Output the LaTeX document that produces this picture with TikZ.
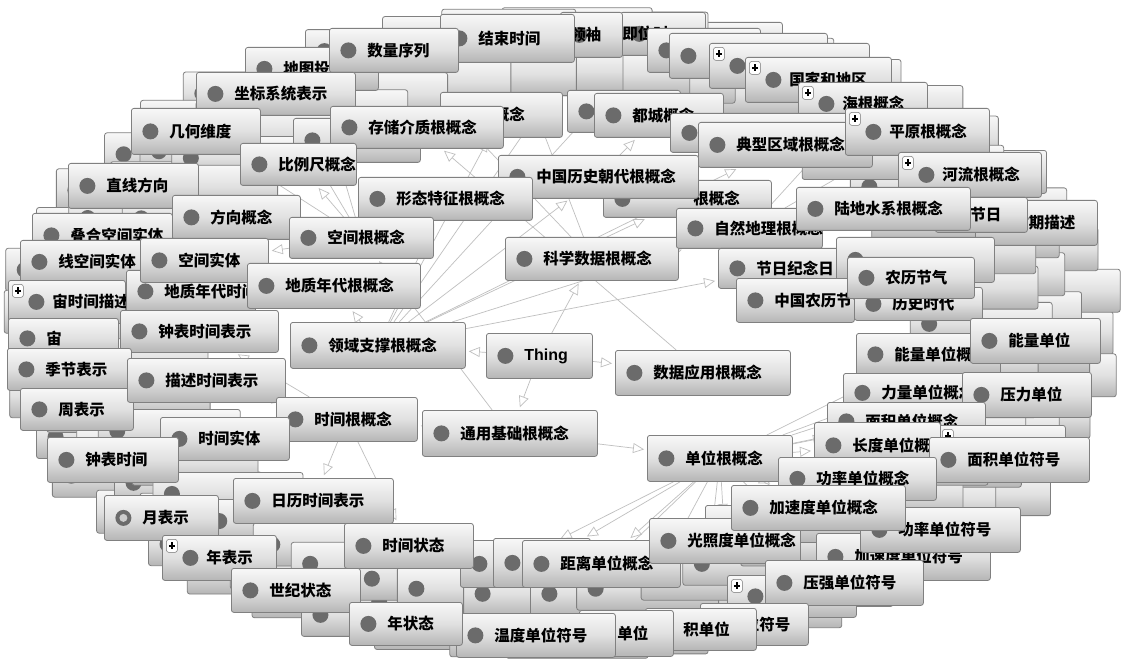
\documentclass[tikz,border=0pt]{standalone}
\usepackage{fontspec}
\newfontfamily\cjk{Noto Sans CJK SC}
\newfontfamily\lsans{Liberation Sans}
\usetikzlibrary{arrows.meta}
\pgfdeclarelayer{background}
\pgfdeclarelayer{paper}
\pgfsetlayers{paper,background,main}
\tikzset{
 box/.style={draw=black!50, line width=0.8pt, rounded corners=2.5pt,
   top color=gray!6, bottom color=gray!58, middle color=gray!24,
   inner sep=0pt, font=\cjk\bfseries\fontsize{15.5}{18}\selectfont, text=black,
   path picture={\fill[black!58] ([xshift=19pt]path picture bounding box.west) circle (8pt);}},
 pbox/.style={box, path picture={
   \fill[black!58] ([xshift=28pt]path picture bounding box.west) circle (8pt);
   \draw[black!55, fill=white, line width=0.5pt] ([xshift=4pt,yshift=-4pt]path picture bounding box.north west) rectangle ++(11pt,-13pt);
   \draw[black, line width=1.3pt] ([xshift=9.5pt,yshift=-7pt]path picture bounding box.north west) -- ++(0,-7pt)
     ([xshift=6.5pt,yshift=-10.5pt]path picture bounding box.north west) -- ++(6pt,0);}},
 hbox/.style={box, path picture={
   \fill[black!58] ([xshift=19pt]path picture bounding box.west) circle (8pt);
   \fill[gray!40] ([xshift=19pt]path picture bounding box.west) circle (4pt);}},
 edge/.style={draw=gray!50, line width=0.7pt, -{Triangle[open, length=11pt, width=10pt]}, shorten >=3pt},
}
\newcommand\bxx[8]{%
 \pgfmathsetmacro\bw{#6-#4}\pgfmathsetmacro\bh{#7-#5}%
 \node[#1, minimum width=\bw pt, minimum height=\bh pt, anchor=north west] (#3) at (#4,#5) {\makebox[\bw pt][l]{\hspace{#2pt}#8}};}
\newcommand\bx[6]{\bxx{box}{38}{#1}{#2}{#3}{#4}{#5}{#6}}
\newcommand\bp[6]{\bxx{pbox}{44}{#1}{#2}{#3}{#4}{#5}{#6}}
\newcommand\bo[7]{\bxx{box}{#7}{#1}{#2}{#3}{#4}{#5}{#6}}
\begin{document}
\begin{tikzpicture}[x=1pt,y=-1pt]
\begin{pgfonlayer}{paper}
\fill[white] (0,0) rectangle (1137,660);
\end{pgfonlayer}
\useasboundingbox (0,0) rectangle (1137,660);
% ring of stacked plates
\foreach \f/\o [count=\r] in {1.0/0, 0.93/4, 0.86/2}{
 \foreach \k in {0,...,44}{
  \pgfmathsetmacro\ang{\k*8+\o}
  \pgfmathsetmacro\cx{560+490*\f*cos(\ang)}
  \pgfmathsetmacro\cy{333-304*\f*sin(\ang)}
  \pgfmathsetmacro\pw{118+8*mod(\k*3+\r,5)}
  \node[box, minimum width=\pw pt, minimum height=43pt] (pl\r-\k) at (\cx,\cy) {};
 }}
% top
\bo{jiwei}{620}{12}{705}{55}{即位时}{2}
\bo{lingxiu}{560}{12}{622}{57}{领袖}{10}
\bx{jieshu}{440}{14}{574}{62}{结束时间}
\bx{p647}{647}{28}{760}{72}{}
\bx{p669}{669}{33}{827}{78}{}
\bp{p709}{709}{43}{869}{88}{}
\bp{guojia}{745}{57}{891}{102}{国家和地区}
\bp{haigen}{798}{82}{927}{125}{海根概念}
\bx{ditu}{245}{47}{378}{90}{地图投影}
\bx{shuliang}{329}{28}{458}{72}{数量序列}
\bx{genn}{440}{92}{562}{137}{根概念}
\bx{hid1}{293}{118}{420}{162}{}
\bx{zuobiao}{196}{72}{355}{115}{坐标系统表示}
\bx{jihe}{131}{108}{260}{154}{几何维度}
\bx{cunchu}{330}{106}{503}{148}{存储介质根概念}
\bx{biliechi}{240}{143}{356}{185}{比例尺概念}
\bx{hid2}{567}{90}{680}{132}{}
\bx{ducheng}{594}{93}{723}{137}{都城概念}
\bx{hid3}{670}{113}{872}{152}{}
\bx{dianxing}{698}{122}{872}{167}{典型区域根概念}
\bp{pingyuan}{845}{108}{989}{155}{平原根概念}
\bo{genn2}{603}{180}{771}{217}{根概念}{90}
\bx{zhongguolishi}{498}{155}{698}{198}{中国历史朝代根概念}
\bx{xingtai}{358}{177}{532}{220}{形态特征根概念}
\bx{kexue}{505}{237}{678}{280}{科学数据根概念}
\bx{ziran}{676}{208}{822}{248}{自然地理根概念}
\bp{heliu}{898}{152}{1041}{197}{河流根概念}
\bo{qims}{975}{200}{1097}{245}{时期描述}{38}
\bo{jieri}{935}{197}{1027}{232}{节日}{35}
\bx{ludi}{796}{187}{970}{230}{陆地水系根概念}
\bx{jierijinian}{718}{248}{843}{288}{节日纪念日}
\bx{zhongda}{836}{237}{994}{282}{}
\bx{zhongguonongli}{736}{278}{854}{322}{中国农历节气}
\bx{lishishidai}{854}{287}{982}{320}{历史时代}
\bx{nonglijieqi}{847}{257}{974}{298}{农历节气}
% right
\bx{nengliangg}{856}{333}{1000}{375}{能量单位概念}
\bx{nengliang}{970}{318}{1100}{363}{能量单位}
\bx{liliang}{843}{373}{1000}{412}{力量单位概念}
\bx{yali}{962}{372}{1091}{417}{压力单位}
\bx{mianjig}{827}{402}{985}{440}{面积单位概念}
\bp{hid5}{938}{425}{1065}{465}{}
\bx{changdu}{814}{422}{940}{468}{长度单位概念}
\bx{mianjifh}{929}{437}{1089}{482}{面积单位符号}
\bx{danweigen}{647}{435}{792}{481}{单位根概念}
\bx{gonglvg}{778}{457}{936}{500}{功率单位概念}
\bx{jiasudufh}{816}{533}{990}{580}{加速度单位符号}
\bx{gonglvfh}{860}{507}{1020}{552}{功率单位符号}
\bx{hid7}{460}{540}{560}{587}{}
\bx{hid8}{493}{538}{590}{587}{}
\bx{juli}{522}{540}{680}{587}{距离单位概念}
\bx{hid6}{705}{505}{800}{550}{}
\bx{guangzhao}{649}{518}{800}{563}{光照度单位概念}
\bx{jiasudug}{731}{485}{905}{530}{加速度单位概念}
\bp{hid9}{727}{575}{856}{617}{}
\bx{yaqiang}{765}{560}{923}{605}{压强单位符号}
\bo{fuhao}{700}{603}{808}{645}{单位符号}{28}
\bx{jidanwei}{645}{608}{756}{650}{积单位}
\bx{danwei}{579}{610}{673}{656}{单位}
\bx{wendu}{456}{613}{615}{657}{温度单位符号}
% left
\bx{zhixian}{68}{163}{198}{208}{直线方向}
\bx{diehe}{32}{213}{172}{257}{叠合空间实体}
\bx{xiankong}{20}{240}{142}{283}{线空间实体}
\bx{fangxiang}{172}{195}{300}{239}{方向概念}
\bx{kongjiangen}{289}{217}{433}{258}{空间根概念}
\bp{zhou}{8}{280}{125}{323}{宙时间描述}
\bx{dizhishijian}{126}{270}{255}{312}{地质年代时间}
\bx{kongjianshiti}{140}{238}{268}{282}{空间实体}
\bx{dizhigen}{247}{263}{420}{308}{地质年代根概念}
\bx{zhou2}{8}{318}{118}{358}{宙}
\bx{zhongbiaobs}{120}{310}{278}{352}{钟表时间表示}
\bx{lingyu}{290}{322}{465}{368}{领域支撑根概念}
\bxx{box}{38}{thing}{486}{333}{592}{378}{\lsans\bfseries\fontsize{16}{18}\selectfont Thing}
\bx{shujuyy}{615}{350}{790}{395}{数据应用根概念}
\bx{jijie}{7}{348}{131}{390}{季节表示}
\bx{zhoubs}{20}{388}{133}{430}{周表示}
\bx{miaoshu}{127}{358}{285}{402}{描述时间表示}
\bx{shijiangen}{276}{397}{417}{441}{时间根概念}
\bx{shijianshiti}{160}{417}{289}{460}{时间实体}
\bx{zhongbiaosj}{47}{437}{178}{482}{钟表时间}
\bx{tongyong}{422}{410}{597}{456}{通用基础根概念}
\bx{rili}{233}{478}{393}{523}{日历时间表示}
\bxx{hbox}{38}{yuebs}{104}{495}{218}{540}{月表示}
\bp{nianbs}{162}{535}{276}{580}{年表示}
\bx{shijianzt}{344}{523}{473}{568}{时间状态}
\bx{shijizt}{231}{568}{360}{612}{世纪状态}
\bx{nianzt}{349}{602}{462}{645}{年状态}
% connectors
\begin{pgfonlayer}{background}
\foreach \a/\b in {thing/lingyu, thing/tongyong, thing/shujuyy, thing/kexue,
  kexue/shuliang, kexue/jieshu, lingyu/lingxiu, lingyu/jiwei,
  lingyu/xingtai, lingyu/dizhigen, lingyu/ziran, lingyu/zhongguolishi, lingyu/dianxing,
  lingyu/jierijinian, lingyu/genn2, lingyu/genn, shujuyy/cunchu,
  tongyong/shijiangen, tongyong/kongjiangen, tongyong/danweigen,
  shijiangen/rili, shijiangen/shijianzt, shijiangen/shijianshiti, shijiangen/miaoshu, shijiangen/zhongbiaobs,
  shijianzt/nianzt, shijianzt/shijizt, rili/nianbs, rili/yuebs, rili/zhoubs, rili/jijie,
  zhongbiaobs/zhongbiaosj,
  danweigen/juli, danweigen/guangzhao, danweigen/jiasudug, danweigen/changdu, danweigen/nengliangg,
  danweigen/liliang, danweigen/gonglvg, danweigen/mianjig, danweigen/wendu, danweigen/yaqiang,
  danweigen/gonglvfh, danweigen/jiasudufh, danweigen/mianjifh, danweigen/nengliang, danweigen/yali,
  danweigen/danwei, danweigen/jidanwei, danweigen/hid7, danweigen/hid8,
  kongjiangen/fangxiang, kongjiangen/kongjianshiti, kongjiangen/zuobiao, kongjiangen/jihe,
  kongjiangen/biliechi, kongjiangen/ditu, fangxiang/zhixian, kongjianshiti/diehe, kongjianshiti/xiankong,
  dizhigen/dizhishijian, dizhigen/zhou, ziran/ludi, ziran/pingyuan, ziran/haigen, ziran/heliu,
  dianxing/guojia, zhongguolishi/ducheng, zhongguolishi/lishishidai,
  jierijinian/zhongguonongli, jierijinian/nonglijieqi, jierijinian/jieri}
  \draw[edge] (\a) -- (\b);
\end{pgfonlayer}
\end{tikzpicture}
\end{document}
